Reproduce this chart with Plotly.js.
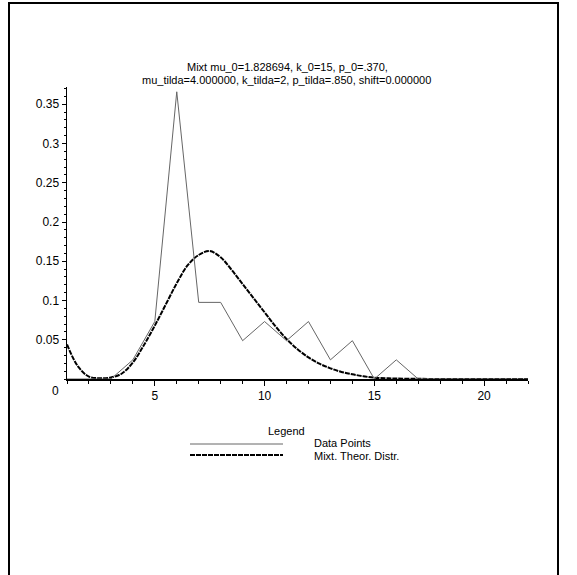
<!DOCTYPE html>
<html>
<head>
<meta charset="utf-8">
<script src="https://cdn.plot.ly/plotly-3.0.1.min.js"></script>
<style>
html,body{margin:0;padding:0;overflow:hidden;background:#fff;}
#chart{position:absolute;left:0;top:0;width:577px;height:575px;}
#frame{position:absolute;left:8px;top:2px;width:547px;height:700px;border:2px solid #000;border-bottom:none;pointer-events:none;z-index:5;}
</style>
</head>
<body>
<div id="chart"></div>
<div id="frame"></div>
<script>
// Observed data points (relative frequencies)
var dataX = [1,2,3,4,5,6,7,8,9,10,11,12,13,14,15,16,17,18,19,20,21,22];
var dataY = [0,0,0,0.0244,0.0732,0.3659,0.0976,0.0976,0.0488,0.0732,0.0488,0.0732,0.0244,0.0488,0,0.0244,0,0,0,0,0,0];

// Mixture theoretical distribution
var theoX = [1,1.5,2,2.5,3,3.5,4,4.5,5,5.5,6,6.5,7,7.5,8,8.5,9,9.5,10,10.5,11,11.5,12,12.5,13,13.5,14,14.5,15,15.5,16,17,18,19,20,21,22];
var theoY = [0.044,0.016,0.003,0.001,0.002,0.007,0.021,0.043,0.068,0.095,0.122,0.145,0.158,0.163,0.155,0.139,0.121,0.103,0.085,0.067,0.051,0.038,0.0275,0.0195,0.0136,0.009,0.006,0.0035,0.0017,0.001,0.0006,0.0002,0.0001,0,0,0,0];

var yTicks = [0.05,0.1,0.15,0.2,0.25,0.3,0.35];
var yTickText = ["0.05","0.1","0.15","0.2","0.25","0.3","0.35"];
var xTicks = [5,10,15,20];
var xTickText = ["5","10","15","20"];

var titleLine1 = "Mixt mu_0=1.828694, k_0=15, p_0=.370,";
var titleLine2 = "mu_tilda=4.000000, k_tilda=2, p_tilda=.850, shift=0.000000";
var legendTitle = "Legend";
var seriesNames = ["Data Points", "Mixt. Theor. Distr."];

var FONT = "Liberation Sans, Arial, sans-serif";

var traces = [
  {x: theoX, y: theoY, type: 'scatter', mode: 'lines', name: seriesNames[1],
   line: {color: '#000', width: 2, dash: '5px,1px', shape: 'spline', smoothing: 1}},
  {x: dataX, y: dataY, type: 'scatter', mode: 'lines', name: seriesNames[0],
   line: {color: '#666', width: 1}}
];

var W = 577, H = 575, L = 67, R = 49, T = 87, B = 196;
var pw = W - L - R, ph = H - T - B;
function px2x(p){ return (p - L) / pw; }
function py2y(p){ return (H - B - p) / ph; }

var layout = {
  width: W, height: H,
  margin: {l: L, r: R, t: T, b: B, pad: 0},
  paper_bgcolor: '#fff', plot_bgcolor: '#fff',
  showlegend: false,
  font: {family: FONT, size: 12, color: '#000'},
  xaxis: {
    range: [1, 22], showgrid: false, zeroline: false,
    showline: true, linecolor: '#000', linewidth: 1.5,
    tickmode: 'array', tickvals: xTicks, ticktext: xTickText,
    ticks: 'outside', ticklen: 5, tickcolor: '#000',
    minor: {dtick: 1, ticks: 'outside', ticklen: 3, tickcolor: '#000', showgrid: false},
    tickfont: {family: FONT, size: 12, color: '#000'}
  },
  yaxis: {
    range: [0, 0.372], showgrid: false, zeroline: false,
    showline: true, linecolor: '#000', linewidth: 1.5,
    tickmode: 'array', tickvals: yTicks, ticktext: yTickText,
    ticks: 'outside', ticklen: 4, tickcolor: '#000',
    minor: {dtick: 0.01, ticks: 'outside', ticklen: 2, tickcolor: '#000', showgrid: false},
    tickfont: {family: FONT, size: 12, color: '#000'}
  },
  annotations: [
    {text: titleLine1, xref: 'paper', yref: 'paper', x: px2x(287), y: py2y(67), showarrow: false,
     xanchor: 'center', yanchor: 'middle', font: {family: FONT, size: 11}},
    {text: titleLine2, xref: 'paper', yref: 'paper', x: px2x(286), y: py2y(80), showarrow: false,
     xanchor: 'center', yanchor: 'middle', font: {family: FONT, size: 11}},
    {text: "0", xref: 'paper', yref: 'paper', x: px2x(61), y: py2y(391), showarrow: false,
     xanchor: 'right', yanchor: 'middle', font: {family: FONT, size: 12}},
    {text: legendTitle, xref: 'paper', yref: 'paper', x: px2x(286), y: py2y(431), showarrow: false,
     xanchor: 'center', yanchor: 'middle', font: {family: FONT, size: 11}},
    {text: seriesNames[0], xref: 'paper', yref: 'paper', x: px2x(312), y: py2y(443), showarrow: false,
     xanchor: 'left', yanchor: 'middle', font: {family: FONT, size: 11}},
    {text: seriesNames[1], xref: 'paper', yref: 'paper', x: px2x(312), y: py2y(456), showarrow: false,
     xanchor: 'left', yanchor: 'middle', font: {family: FONT, size: 11}}
  ],
  shapes: [
    {type: 'line', xref: 'paper', yref: 'paper', x0: px2x(190), x1: px2x(283), y0: py2y(444), y1: py2y(444),
     line: {color: '#666', width: 1}},
    {type: 'line', xref: 'paper', yref: 'paper', x0: px2x(190), x1: px2x(283), y0: py2y(455), y1: py2y(455),
     line: {color: '#000', width: 2, dash: '5px,1px'}}
  ]
};

Plotly.newPlot('chart', traces, layout, {displayModeBar: false, staticPlot: true});
</script>
</body>
</html>
